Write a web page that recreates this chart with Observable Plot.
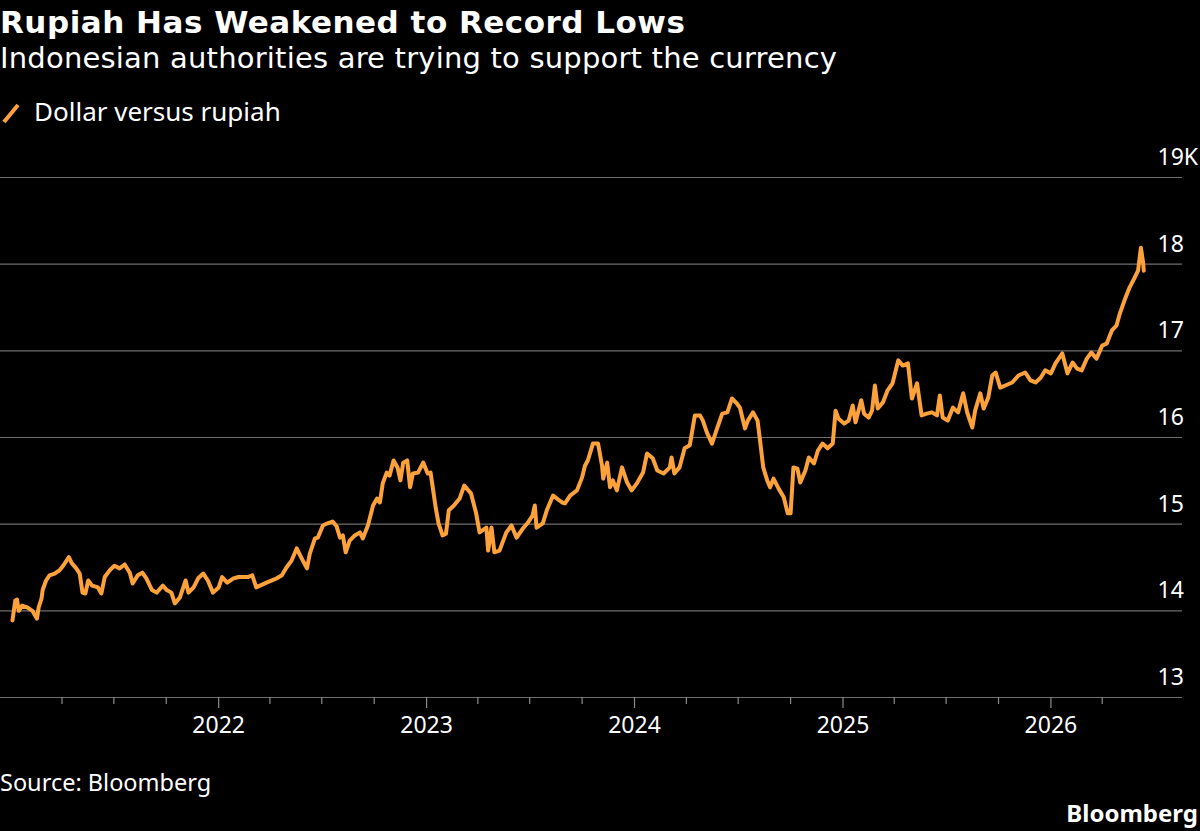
<!DOCTYPE html>
<html><head><meta charset="utf-8">
<script src="https://cdn.jsdelivr.net/npm/d3@7"></script>
<script src="https://cdn.jsdelivr.net/npm/@observablehq/plot@0.6"></script>
<style>
html,body{margin:0;padding:0;background:#000;}
body{width:1200px;height:831px;position:relative;overflow:hidden;font-family:"Noto Sans",sans-serif;color:#fff;}
.t{position:absolute;left:0;white-space:nowrap;line-height:1;}
#title{top:7px;font-size:31px;letter-spacing:0.5px;font-weight:700;font-family:"DejaVu Sans",sans-serif;}
#subtitle{top:44px;font-size:29px;letter-spacing:0.2px;font-family:"DejaVu Sans",sans-serif;}
#legend{top:98px;left:34px;font-size:26px;}
#legsym{position:absolute;left:0;top:101px;}
#chart{position:absolute;left:0;top:140px;}
#source{top:771px;font-size:23.5px;}
#logo{left:auto;right:2px;top:801px;font-size:24px;font-weight:700;}
</style></head>
<body>
<div class="t" id="title">Rupiah Has Weakened to Record Lows</div>
<div class="t" id="subtitle">Indonesian authorities are trying to support the currency</div>
<svg id="legsym" width="24" height="24"><line x1="4" y1="21" x2="18" y2="4" stroke="#fda23b" stroke-width="4"/></svg>
<div class="t" id="legend">Dollar versus rupiah</div>
<div id="chart"></div>
<div class="t" id="source">Source: Bloomberg</div>
<div class="t" id="logo">Bloomberg</div>
<script>
const dates = [
"2021-01-04","2021-01-09","2021-01-12","2021-01-15","2021-01-21","2021-01-30","2021-02-08","2021-02-16","2021-02-19","2021-02-24",
"2021-02-26","2021-03-04","2021-03-10","2021-03-19","2021-03-28","2021-04-03","2021-04-13","2021-04-18","2021-04-26","2021-05-02",
"2021-05-07","2021-05-12","2021-05-17","2021-05-24","2021-06-03","2021-06-09","2021-06-15","2021-06-24","2021-07-02","2021-07-11",
"2021-07-20","2021-07-29","2021-08-03","2021-08-12","2021-08-20","2021-08-27","2021-09-06","2021-09-14","2021-09-25","2021-10-02",
"2021-10-10","2021-10-16","2021-10-25","2021-11-04","2021-11-09","2021-11-18","2021-11-26","2021-12-05","2021-12-13","2021-12-22",
"2022-01-01","2022-01-07","2022-01-16","2022-01-27","2022-02-05","2022-02-21","2022-03-01","2022-03-08","2022-03-26","2022-04-13",
"2022-04-22","2022-04-30","2022-05-09","2022-05-18","2022-05-26","2022-06-05","2022-06-10","2022-06-19","2022-06-24","2022-07-03",
"2022-07-11","2022-07-20","2022-07-27","2022-08-02","2022-08-07","2022-08-12","2022-08-19","2022-08-28","2022-09-06","2022-09-11",
"2022-09-20","2022-09-29","2022-10-06","2022-10-11","2022-10-16","2022-10-23","2022-10-28","2022-11-04","2022-11-11","2022-11-16",
"2022-11-21","2022-11-28","2022-12-03","2022-12-08","2022-12-17","2022-12-26","2023-01-03","2023-01-08","2023-01-17","2023-01-22",
"2023-01-29","2023-02-04","2023-02-09","2023-02-18","2023-02-28","2023-03-08","2023-03-20","2023-03-29","2023-04-04","2023-04-16",
"2023-04-19","2023-04-25","2023-04-30","2023-05-09","2023-05-21","2023-05-30","2023-06-08","2023-06-19","2023-06-27","2023-07-06",
"2023-07-10","2023-07-13","2023-07-24","2023-07-31","2023-08-11","2023-08-27","2023-09-01","2023-09-10","2023-09-22","2023-10-01",
"2023-10-06","2023-10-11","2023-10-20","2023-10-29","2023-11-05","2023-11-07","2023-11-14","2023-11-19","2023-11-24","2023-12-01",
"2023-12-10","2023-12-19","2023-12-27","2024-01-06","2024-01-16","2024-01-23","2024-02-02","2024-02-10","2024-02-21","2024-03-03",
"2024-03-06","2024-03-11","2024-03-20","2024-03-29","2024-04-07","2024-04-16","2024-04-25","2024-04-30","2024-05-07","2024-05-16",
"2024-05-25","2024-06-03","2024-06-12","2024-06-20","2024-06-29","2024-07-04","2024-07-13","2024-07-18","2024-07-27","2024-08-04",
"2024-08-09","2024-08-14","2024-08-21","2024-08-26","2024-09-01","2024-09-10","2024-09-19","2024-09-26","2024-10-01","2024-10-06",
"2024-10-13","2024-10-18","2024-10-27","2024-11-02","2024-11-11","2024-11-18","2024-11-26","2024-12-05","2024-12-14","2024-12-19",
"2024-12-24","2025-01-03","2025-01-11","2025-01-18","2025-01-23","2025-02-02","2025-02-07","2025-02-15","2025-02-21","2025-02-26",
"2025-03-03","2025-03-12","2025-03-20","2025-03-29","2025-04-08","2025-04-16","2025-04-25","2025-05-02","2025-05-11","2025-05-19",
"2025-05-28","2025-06-06","2025-06-15","2025-06-20","2025-06-25","2025-07-04","2025-07-13","2025-07-22","2025-07-31","2025-08-07",
"2025-08-16","2025-08-21","2025-08-30","2025-09-05","2025-09-13","2025-09-20","2025-09-26","2025-10-04","2025-10-13","2025-10-25",
"2025-11-05","2025-11-17","2025-11-26","2025-12-05","2025-12-14","2025-12-22","2026-01-01","2026-01-09","2026-01-21","2026-01-30",
"2026-02-08","2026-02-16","2026-02-24","2026-03-05","2026-03-13","2026-03-22","2026-04-01","2026-04-09","2026-04-18","2026-04-26",
"2026-05-02","2026-05-10","2026-05-19","2026-05-28","2026-06-03","2026-06-08","2026-06-12","2026-06-13"];

const values = [
13890,14120,14130,14000,14060,14040,14000,13910,14040,14140,
14240,14350,14410,14430,14470,14520,14620,14550,14490,14430,
14210,14200,14350,14290,14270,14200,14390,14470,14520,14490,
14535,14440,14315,14410,14440,14375,14240,14210,14290,14240,
14210,14085,14155,14350,14210,14270,14375,14430,14350,14210,
14270,14390,14325,14375,14390,14390,14410,14270,14325,14375,
14410,14500,14580,14720,14615,14490,14660,14835,14845,14985,
15010,15030,14975,14845,14870,14675,14810,14870,14905,14835,
14985,15215,15295,15250,15470,15595,15560,15735,15655,15505,
15710,15735,15425,15585,15595,15710,15585,15595,15190,15010,
14870,14890,15160,15215,15295,15445,15355,15125,14905,14960,
14695,14960,14675,14695,14905,14985,14845,14950,15010,15100,
15215,14960,15010,15160,15330,15250,15240,15330,15390,15540,
15675,15735,15930,15930,15675,15525,15710,15425,15505,15390,
15655,15480,15390,15480,15595,15815,15760,15620,15585,15655,
15770,15585,15655,15875,15910,16255,16255,16195,16060,15930,
16105,16275,16290,16450,16390,16345,16105,16195,16290,16195,
15930,15655,15505,15425,15525,15410,15310,15125,15125,15655,
15640,15480,15620,15770,15700,15850,15930,15875,15930,16310,
16220,16160,16195,16370,16175,16430,16275,16230,16310,16600,
16335,16405,16540,16625,16890,16830,16855,16450,16625,16255,
16275,16290,16255,16485,16230,16195,16345,16290,16510,16290,
16115,16310,16510,16335,16460,16715,16750,16575,16600,16635,
16715,16750,16660,16635,16690,16775,16740,16855,16970,16740,
16865,16795,16775,16910,16980,16910,17060,17085,17235,17290,
17430,17580,17730,17845,17925,18190,18010,17925];

const yTicks = [13000,14000,15000,16000,17000,18000,19000];
const yearTicks = ["2022-01-01","2023-01-01","2024-01-01","2025-01-01","2026-01-01"];
const quarterTicks = ["2021-04-01","2021-07-01","2021-10-01","2022-04-01","2022-07-01","2022-10-01",
  "2023-04-01","2023-07-01","2023-10-01","2024-04-01","2024-07-01","2024-10-01",
  "2025-04-01","2025-07-01","2025-10-01","2026-04-01"];
const xDomain = ["2020-12-14","2026-08-20"];

const data = dates.map((d, i) => ({date: new Date(d), value: values[i]}));
const fmtY = v => v === 19000 ? "19K" : String(v / 1000);

const chart = Plot.plot({
  width: 1200, height: 617,
  marginLeft: 0, marginRight: 18, marginTop: 37, marginBottom: 60,
  style: {background: "#000", color: "#fff", fontFamily: "Noto Sans, sans-serif", fontSize: "23px", overflow: "visible"},
  x: {type: "utc", domain: xDomain.map(d => new Date(d)), label: null},
  y: {domain: [13000, 19000], label: null},
  marks: [
    Plot.gridY(yTicks, {stroke: "#6e6e6e", strokeOpacity: 1, strokeWidth: 1.2}),
    Plot.axisY(yTicks, {anchor: "right", tickSize: 0, tickPadding: 0, textAnchor: "start", dx: -25, dy: -20, tickFormat: fmtY, fill: "#fff", fontSize: 23}),
    Plot.axisX(quarterTicks.map(d => new Date(d)), {tickSize: 7, tickFormat: () => "", stroke: "#8a8a8a", strokeWidth: 1.2}),
    Plot.axisX(yearTicks.map(d => new Date(d)), {tickSize: 11, tickPadding: 8, tickFormat: d => String(d.getUTCFullYear()), stroke: "#8a8a8a", strokeWidth: 1.2, fill: "#fff", fontSize: 23}),
    Plot.lineY(data, {x: "date", y: "value", stroke: "#fda23b", strokeWidth: 4, strokeLinejoin: "round"})
  ]
});
document.getElementById("chart").appendChild(chart);
</script>
</body></html>
